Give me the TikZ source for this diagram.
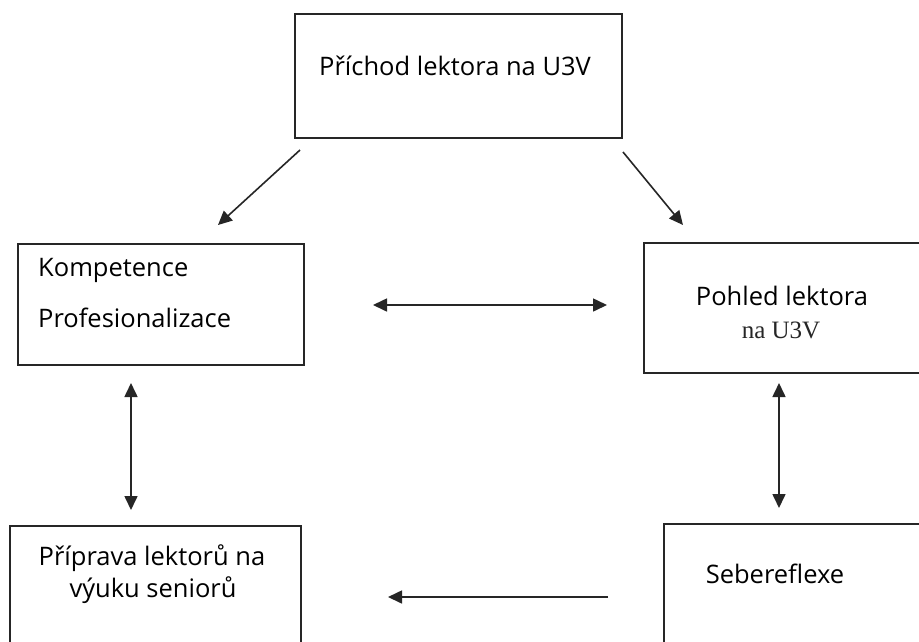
\documentclass[tikz,border=0pt]{standalone}
\usepackage{fontspec}
\setmainfont{Open Sans}
\newfontfamily\serifnaf{Liberation Serif}
\usetikzlibrary{arrows.meta}
\tikzset{
  boxnode/.style={draw=black!85, line width=2pt, rectangle, inner sep=0pt, anchor=north west},
  lbl/.style={font=\fontsize{25.5}{30}\selectfont, inner sep=0pt, text=black},
  conn/.style={line width=1.6pt, draw=black!85, -{Triangle[length=14pt,width=13pt]}},
  biconn/.style={line width=1.6pt, draw=black!85, {Triangle[length=14pt,width=13pt]}-{Triangle[length=14pt,width=13pt]}}
}
\begin{document}
\begin{tikzpicture}[x=1pt,y=-1pt]
\clip (0,0) rectangle (919,641);
\fill[white] (0,0) rectangle (919,641);
% boxes
\node[boxnode, minimum width=327pt, minimum height=124pt] (top) at (294,13) {};
\node[boxnode, minimum width=286pt, minimum height=121pt] (kp) at (17,243) {};
\node[boxnode, minimum width=290pt, minimum height=130pt] (pl) at (643,242) {};
\node[boxnode, minimum width=291pt, minimum height=160pt] (pr) at (9,525) {};
\node[boxnode, minimum width=280pt, minimum height=160pt] (sb) at (663,523) {};
% texts
\node[lbl, anchor=base] (t1) at (455,75) {Příchod lektora na U3V};
\node[lbl, anchor=base west] (t2) at (38,276) {Kompetence};
\node[lbl, anchor=base west] (t3) at (38,327) {Profesionalizace};
\node[lbl, anchor=base] (t4) at (782,305) {Pohled lektora};
\node[inner sep=0pt, anchor=base, font=\serifnaf\fontsize{25}{30}\selectfont, text=black!85] (t5) at (781,338) {na U3V};
\node[lbl, anchor=base] (t6) at (152,565) {Příprava lektorů na};
\node[lbl, anchor=base] (t7) at (153,597) {výuku seniorů};
\node[lbl, anchor=base] (t8) at (775,583) {Sebereflexe};
% connector end points
\coordinate (a1s) at (300,150);
\coordinate (a1e) at (218,225);
\coordinate (a2s) at (623,152);
\coordinate (a2e) at (683,225);
\coordinate (h1s) at (373,305);
\coordinate (h1e) at (607,305);
\coordinate (v1s) at (131,383);
\coordinate (v1e) at (131,510);
\coordinate (v2s) at (779,383);
\coordinate (v2e) at (779,508);
\coordinate (b1s) at (608,597);
\coordinate (b1e) at (388,597);
% connectors
\draw[conn] (a1s) -- (a1e);
\draw[conn] (a2s) -- (a2e);
\draw[biconn] (h1s) -- (h1e);
\draw[biconn] (v1s) -- (v1e);
\draw[biconn] (v2s) -- (v2e);
\draw[conn] (b1s) -- (b1e);
\end{tikzpicture}
\end{document}
